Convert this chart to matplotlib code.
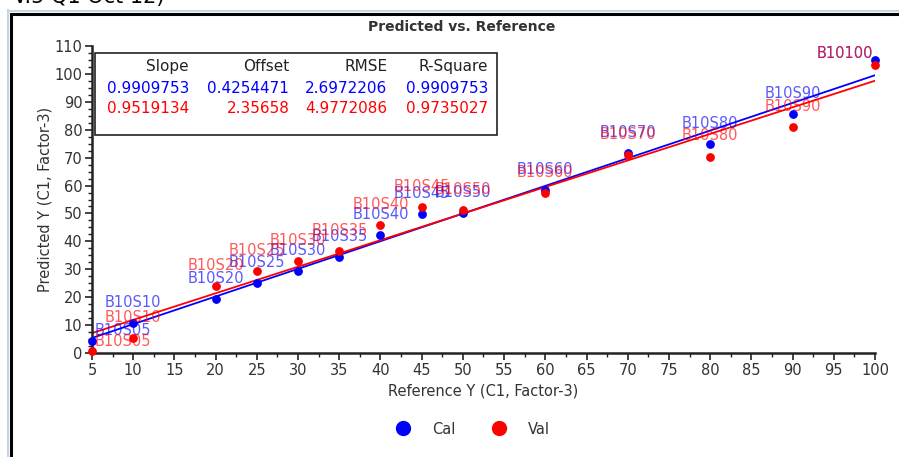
#!/usr/bin/env python3

import matplotlib
matplotlib.use("Agg")
import matplotlib.pyplot as plt
from matplotlib.lines import Line2D
from matplotlib.patches import Rectangle
from matplotlib.ticker import MultipleLocator

# reference values and sample names
reference = [5, 10, 20, 25, 30, 35, 40, 45, 50, 60, 70, 80, 90, 100]
names = ["B10S05", "B10S10", "B10S20", "B10S25", "B10S30", "B10S35", "B10S40",
         "B10S45", "B10S50", "B10S60", "B10S70", "B10S80", "B10S90", "B10100"]

# predicted values, calibration and validation
cal_pred = [4.3, 10.7, 19.4, 25.1, 29.4, 34.4, 42.3, 49.8, 50.2, 58.4, 71.7, 74.9, 85.7, 105.0]
val_pred = [0.7, 5.4, 24.0, 29.4, 33.0, 36.6, 45.9, 52.3, 51.2, 57.3, 71.0, 70.3, 81.0, 103.2]

# fit statistics: slope, offset, rmse, r-square
stat_headers = ["Slope", "Offset", "RMSE", "R-Square"]
cal_stats = ["0.9909753", "0.4254471", "2.6972206", "0.9909753"]
val_stats = ["0.9519134", "2.35658", "4.9772086", "0.9735027"]

BLUE = "#0000ff"
RED = "#ff0000"
DPI = 100

plt.rcParams["font.family"] = ["DejaVu Sans"]

fig = plt.figure(figsize=(8.99, 4.57), dpi=DPI)
fig.subplots_adjust(left=92 / 899, right=875 / 899, bottom=1 - 353 / 457, top=1 - 46 / 457)
ax = fig.add_subplot(111)

ax.set_xlim(5, 100)
ax.set_ylim(0, 110)
for side in ("top", "right"):
    ax.spines[side].set_visible(False)
for side in ("left", "bottom"):
    ax.spines[side].set_linewidth(1.8)
    ax.spines[side].set_color("#222222")
ax.xaxis.set_major_locator(MultipleLocator(5))
ax.xaxis.set_minor_locator(MultipleLocator(2.5))
ax.yaxis.set_major_locator(MultipleLocator(10))
ax.yaxis.set_minor_locator(MultipleLocator(2.5))
ax.tick_params(which="major", length=5, width=1.2, color="#222222",
               labelsize=10.5, labelcolor="#333333", pad=2)
ax.tick_params(which="minor", length=3, width=1.0, color="#222222")

ax.set_xlabel("Reference Y (C1, Factor-3)", fontsize=10.5, color="#333333", labelpad=4)
ax.set_ylabel("Predicted Y (C1, Factor-3)", fontsize=10.5, color="#333333", labelpad=1)
fig.text(462 / 899, 1 - 27 / 457, "Predicted vs. Reference", fontsize=10, fontweight="bold",
         color="#333333", ha="center", va="center")

# regression lines
x_line = [reference[0], reference[-1]]
for stats, color in ((cal_stats, BLUE), (val_stats, RED)):
    slope, offset = float(stats[0]), float(stats[1])
    ax.plot(x_line, [slope * v + offset for v in x_line], color=color, lw=1.3, zorder=2)

ax.scatter(reference, cal_pred, s=28, color=BLUE, zorder=3, clip_on=False, label="Cal")
ax.scatter(reference, val_pred, s=28, color=RED, zorder=4, clip_on=False, label="Val")

# sample labels above each point, kept inside the plot area
top_px = ax.transAxes.transform((0, 1))[1]
for pred, color in ((cal_pred, BLUE), (val_pred, RED)):
    for i, (x, y, name) in enumerate(zip(reference, pred, names)):
        py = ax.transData.transform((x, y))[1]
        if i == 0:
            dy, dx, ha = 10, 3, "left"
        elif i == len(reference) - 1:
            dy, dx, ha = 20.8, -2, "right"
        else:
            dy, dx, ha = 20.8, 0, "center"
        dy = min(dy, top_px - 8 - py)
        ax.annotate(name, (x, y), xytext=(dx * 72 / DPI, dy * 72 / DPI),
                    textcoords="offset points", ha=ha, va="center",
                    fontsize=10.5, color=color, alpha=0.65, zorder=5)

# statistics box
ax.add_patch(Rectangle((0.004, 0.71), 0.513, 0.267, transform=ax.transAxes,
                       fill=True, facecolor="white", edgecolor="#222222", lw=1.2, zorder=6))
col_right = [0.124, 0.252, 0.377, 0.506]
for xr, head, cv, vv in zip(col_right, stat_headers, cal_stats, val_stats):
    ax.text(xr, 0.932, head, transform=ax.transAxes, ha="right", va="center",
            fontsize=11, color="#222222", zorder=7)
    ax.text(xr, 0.863, cv, transform=ax.transAxes, ha="right", va="center",
            fontsize=11, color=BLUE, zorder=7)
    ax.text(xr, 0.798, vv, transform=ax.transAxes, ha="right", va="center",
            fontsize=11, color=RED, zorder=7)

# legend below the axis
handles = [Line2D([], [], ls="", marker="o", ms=10, color=BLUE),
           Line2D([], [], ls="", marker="o", ms=10, color=RED)]
fig.legend(handles, ["Cal", "Val"], loc="center", bbox_to_anchor=(0.522, 1 - 429 / 457),
           ncol=2, frameon=False, fontsize=10.5, handletextpad=1.0, columnspacing=2.0,
           labelcolor="#333333")

# window frame and clipped caption at the top
fig.add_artist(Line2D([8 / 899, 8 / 899], [0, 1 - 10 / 457], color="#c5d5e5", lw=1.5,
                      transform=fig.transFigure))
fig.add_artist(Line2D([8 / 899, 1], [1 - 11 / 457, 1 - 11 / 457], color="#c5d5e5", lw=1.5,
                      transform=fig.transFigure))
fig.add_artist(Line2D([11 / 899, 11 / 899], [0, 1 - 14 / 457], color="black", lw=2.2,
                      transform=fig.transFigure))
fig.add_artist(Line2D([11 / 899, 1], [1 - 14 / 457, 1 - 14 / 457], color="black", lw=2.2,
                      transform=fig.transFigure))
fig.text(13 / 899, 1 - 3 / 457, "V.5 Q1 Oct 12)", fontsize=15, color="black",
         ha="left", va="baseline")

fig.savefig("out.png", dpi=DPI)
